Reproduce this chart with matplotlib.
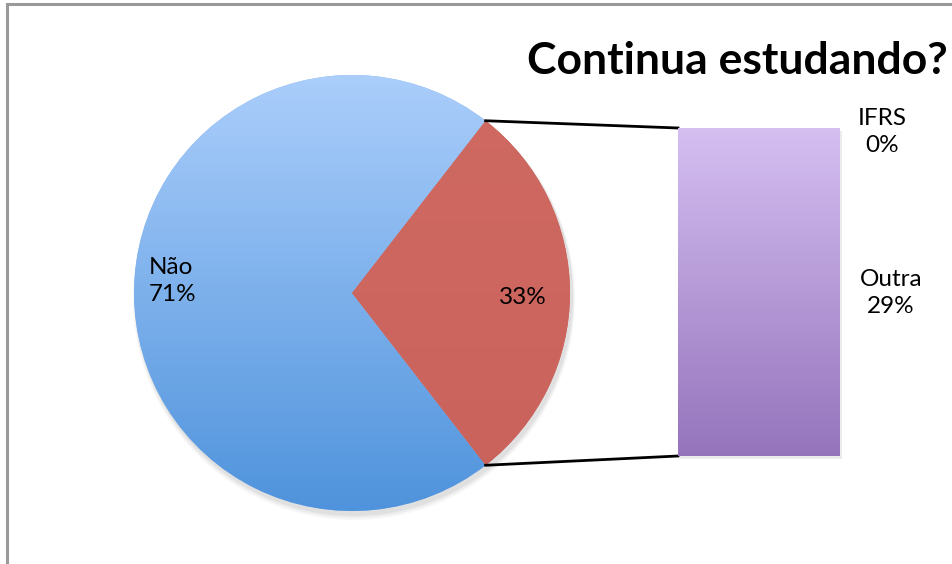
import numpy as np
import matplotlib
matplotlib.use("Agg")
import matplotlib.pyplot as plt
from matplotlib.patches import Rectangle, Circle
from matplotlib.colors import LinearSegmentedColormap

plt.rcParams['font.family'] = ['Lato', 'DejaVu Sans']

# ---- data ----
title = "Continua estudando?"
pie_categories = ["Não", "Outros"]
pie_values = [71, 29]
pie_labels = ["Não\n71%", "33%"]
bar_categories = ["Outra", "IFRS"]
bar_values = [29, 0]
bar_labels = ["Outra\n29%", "IFRS\n0%"]

W, H = 953, 564
fig = plt.figure(figsize=(W / 100, H / 100), dpi=100)
ax = fig.add_axes([0, 0, 1, 1])

# border
fig.patches.append(Rectangle((7 / W, -0.1), 1.2, (H - 4) / H + 0.1, transform=fig.transFigure,
                             fill=False, edgecolor="#9a9a9a", linewidth=2.2, zorder=0))

# ---- pie ----
cx, cy, r = 352, 293, 218
other_frac = pie_values[1] / sum(pie_values)
startangle = other_frac * 180.0  # red wedge centered on the right side
wedges, _ = ax.pie(pie_values, center=(cx, cy), radius=r, startangle=-startangle,
                   counterclock=False, colors=["#8ab6ef", "#cc665f"],
                   wedgeprops=dict(linewidth=0), frame=True)
ax.set_xlim(0, W)
ax.set_ylim(H, 0)
ax.set_aspect("equal")
ax.axis("off")

# shadow
for i, a in enumerate([0.05, 0.04, 0.03]):
    sh = Circle((cx + 2, cy + 4 + i), r + 1 + i, facecolor="black", alpha=a, linewidth=0, zorder=0.5)
    ax.add_patch(sh)
for w in wedges:
    w.set_zorder(1)

# gradients
blue = LinearSegmentedColormap.from_list("b", ["#abcefb", "#4f93dc"])
grad = np.linspace(0, 1, 256).reshape(-1, 1)
im = ax.imshow(grad, cmap=blue, extent=(cx - r, cx + r, cy + r, cy - r), aspect="auto", zorder=1.5)
im.set_clip_path(wedges[0])
red = LinearSegmentedColormap.from_list("r", ["#cf6a63", "#c9625b"])
im2 = ax.imshow(grad, cmap=red, extent=(cx - r, cx + r, cy + r, cy - r), aspect="auto", zorder=1.5)
im2.set_clip_path(wedges[1])
ax.set_xlim(0, W)
ax.set_ylim(H, 0)

fs = 17.5
ax.text(149, 281, pie_labels[0], fontsize=fs, ha="left", va="center", color="black",
        linespacing=1.35, zorder=3)
ax.text(523, 298, pie_labels[1], fontsize=fs, ha="center", va="center", color="black", zorder=3)

# ---- bar ----
bx0, bx1, by0, by1 = 678, 840, 128, 456
bax = fig.add_axes([bx0 / W, (H - by1) / H, (bx1 - bx0) / W, (by1 - by0) / H])
total = sum(bar_values)
bottom = 0
bars = []
for v in bar_values:
    b = bax.bar(0, v, bottom=bottom, width=1.0, color="#b59ad9", linewidth=0)
    bars.append(b[0])
    bottom += v
purple = LinearSegmentedColormap.from_list("p", ["#9574bc", "#d5bff1"])
img = bax.imshow(np.linspace(0, 1, 256).reshape(-1, 1), cmap=purple, origin="lower",
                 extent=(-0.5, 0.5, 0, total), aspect="auto", zorder=2)
img.set_clip_path(bars[0])
bax.set_xlim(-0.5, 0.5)
bax.set_ylim(0, total)
bax.axis("off")

# bar shadow
ax.add_patch(Rectangle((bx0 + 2, by0 + 3), bx1 - bx0, by1 - by0, facecolor="black",
                       alpha=0.08, linewidth=0, zorder=0.5))

# labels of bar
ax.text(882, 132, bar_labels[1], fontsize=fs, ha="center", va="center", linespacing=1.35)
ax.text(891, 293, bar_labels[0], fontsize=fs, ha="center", va="center", linespacing=1.35)

# connectors
a1 = np.deg2rad(startangle)
p_top = (cx + r * np.cos(a1), cy - r * np.sin(a1))
p_bot = (cx + r * np.cos(a1), cy + r * np.sin(a1))
ax.plot([p_top[0], bx0], [p_top[1], by0], color="black", linewidth=2, zorder=3)
ax.plot([p_bot[0], bx0], [p_bot[1], by1], color="black", linewidth=2, zorder=3)

# title
ax.text(737, 61, title, fontsize=32, fontweight="bold", ha="center", va="center")

fig.savefig("out.png", dpi=100)
